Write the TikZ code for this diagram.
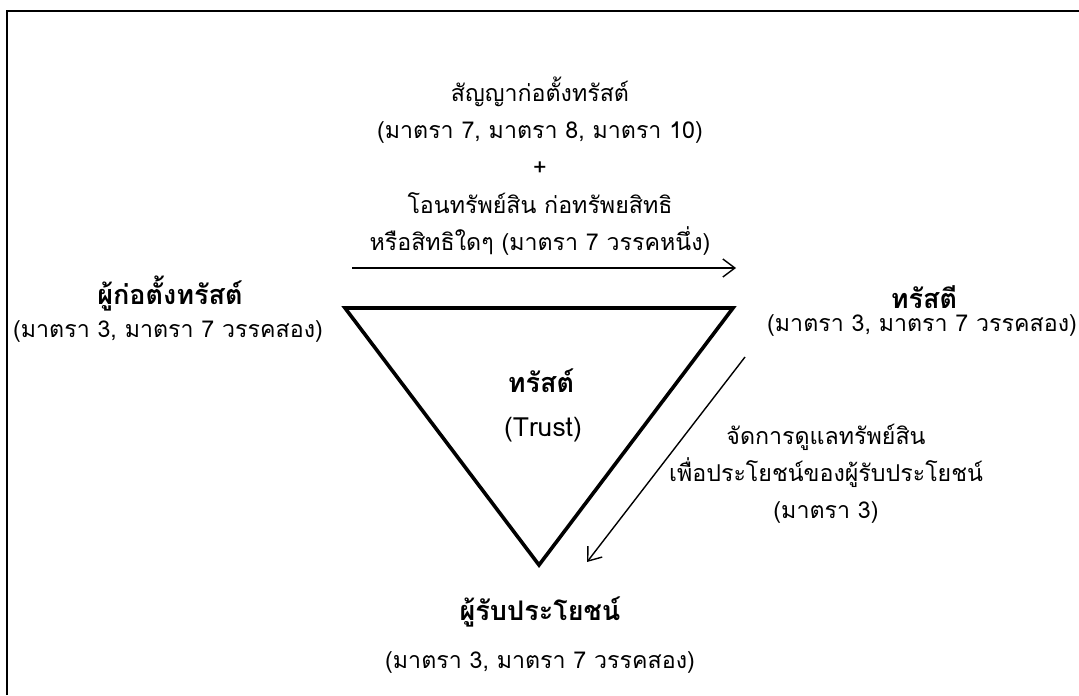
\documentclass[tikz,border=0pt]{standalone}
\usepackage{fontspec}
\setmainfont[Script=Thai]{Loma}
\usetikzlibrary{arrows.meta}

\begin{document}
\begin{tikzpicture}[x=0.5pt,y=-0.5pt,
    txt/.style={align=center,font=\fontsize{11.6}{18.6}\selectfont},
    hd/.style={align=center,font=\fontsize{13.5}{15}\selectfont\bfseries},
    flow/.style={line width=0.7pt,-{Straight Barb[length=6pt,width=9pt]}},
    tri/.style={line width=1.8pt,line join=miter}]
  \useasboundingbox (0,0) rectangle (1079,695);
  % frame
  \draw[line width=1pt] (7,695) -- (7,11) -- (1079,11);

  % triangle
  \coordinate (tl) at (345,308);
  \coordinate (tr) at (733,308);
  \coordinate (bt) at (539,565);
  \draw[tri] (tl) -- (tr) -- (bt) -- cycle;

  \node[hd] (trust) at (541,381) {ทรัสต์};
  \node[txt,font=\fontsize{13.2}{15}\selectfont] (trusten) at (543,430) {(Trust)};

  % settlor
  \node[hd] (settlor) at (170,294) {ผู้ก่อตั้งทรัสต์};
  \node[txt] (settlorlaw) at (168,331) {(มาตรา 3, มาตรา 7 วรรคสอง)};

  % trustee
  \node[hd] (trustee) at (924,297) {ทรัสตี};
  \node[txt] (trusteelaw) at (922,325) {(มาตรา 3, มาตรา 7 วรรคสอง)};

  % beneficiary
  \node[hd] (benef) at (540,612) {ผู้รับประโยชน์};
  \node[txt] (beneflaw) at (540,662) {(มาตรา 3, มาตรา 7 วรรคสอง)};

  % transfer
  \node[txt] (deed) at (540,166) {สัญญาก่อตั้งทรัสต์\\(มาตรา 7, มาตรา 8, มาตรา 10)\\+\\โอนทรัพย์สิน ก่อทรัพยสิทธิ\\หรือสิทธิใดๆ (มาตรา 7 วรรคหนึ่ง)};
  \coordinate (a1) at (352,268);
  \coordinate (a2) at (736,268);
  \draw[flow] (a1) -- (a2);

  % management
  \node[txt] (manage) at (826,474) {จัดการดูแลทรัพย์สิน\\เพื่อประโยชน์ของผู้รับประโยชน์\\(มาตรา 3)};
  \coordinate (b1) at (745,357);
  \coordinate (b2) at (587,562);
  \draw[flow] (b1) -- (b2);
\end{tikzpicture}
\end{document}
